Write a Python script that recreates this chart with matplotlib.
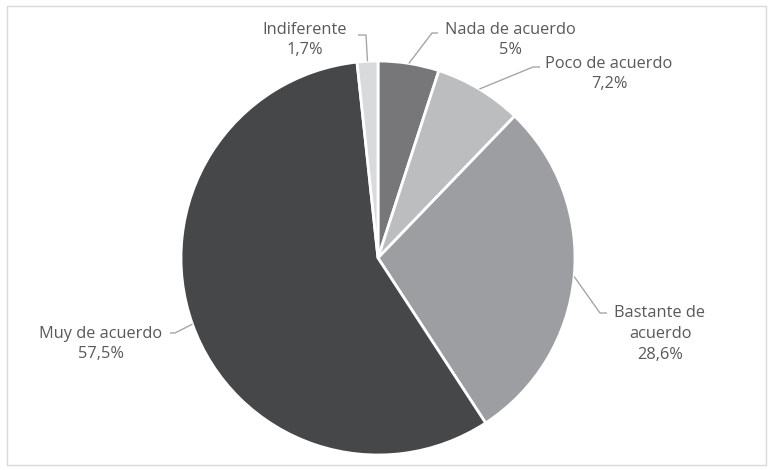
import numpy as np
import matplotlib.pyplot as plt
from matplotlib.patches import Rectangle

labels = ["Nada de acuerdo", "Poco de acuerdo", "Bastante de\nacuerdo", "Muy de acuerdo", "Indiferente"]
values = [5.0, 7.2, 28.6, 57.5, 1.7]
pct_text = ["5%", "7,2%", "28,6%", "57,5%", "1,7%"]
colors = ["#77777a", "#bcbdbf", "#9d9ea2", "#464749", "#d9dadb"]

W, H = 774, 470
fig = plt.figure(figsize=(W / 100, H / 100), dpi=100)
ax = fig.add_axes([0, 0, 1, 1])

# frame around the chart area
fig.patches.append(Rectangle((7 / W, 5 / H), 759 / W, 459 / H, transform=fig.transFigure,
                             fill=False, edgecolor="#d9d9d9", linewidth=1))

cx, cy, r = 378, H - 258, 197
wedges, _ = ax.pie(values, colors=colors, startangle=90, counterclock=False,
                   center=(cx, cy), radius=r, frame=True,
                   wedgeprops=dict(edgecolor="white", linewidth=2))
ax.set_xlim(0, W)
ax.set_ylim(0, H)
ax.set_aspect("equal")
ax.axis("off")

# label text centre (pixels) and leader elbow (pixels)
text_pos = [(510, 40), (609, 74), (660, 334), (101, 344), (305, 40)]
elbows = [(432, 33, 438), (533, 67, 540), (600, 313, 607), (175, 333, 170), (366, 35, 358)]

for w, lab, pt, tp, el in zip(wedges, labels, pct_text, text_pos, elbows):
    ang = np.deg2rad((w.theta1 + w.theta2) / 2)
    x0 = cx + r * np.cos(ang)
    y0 = cy + r * np.sin(ang)
    ex, ey, hx = el
    ax.plot([x0, ex, hx], [y0, H - ey, H - ey], color="#a6a6a6", linewidth=1, solid_capstyle="butt")
    ax.text(tp[0], H - tp[1], lab + "\n" + pt, ha="center", va="center",
            fontsize=11.8, color="#595959", family="Open Sans", linespacing=1.38)

fig.savefig("out.png", dpi=100)
